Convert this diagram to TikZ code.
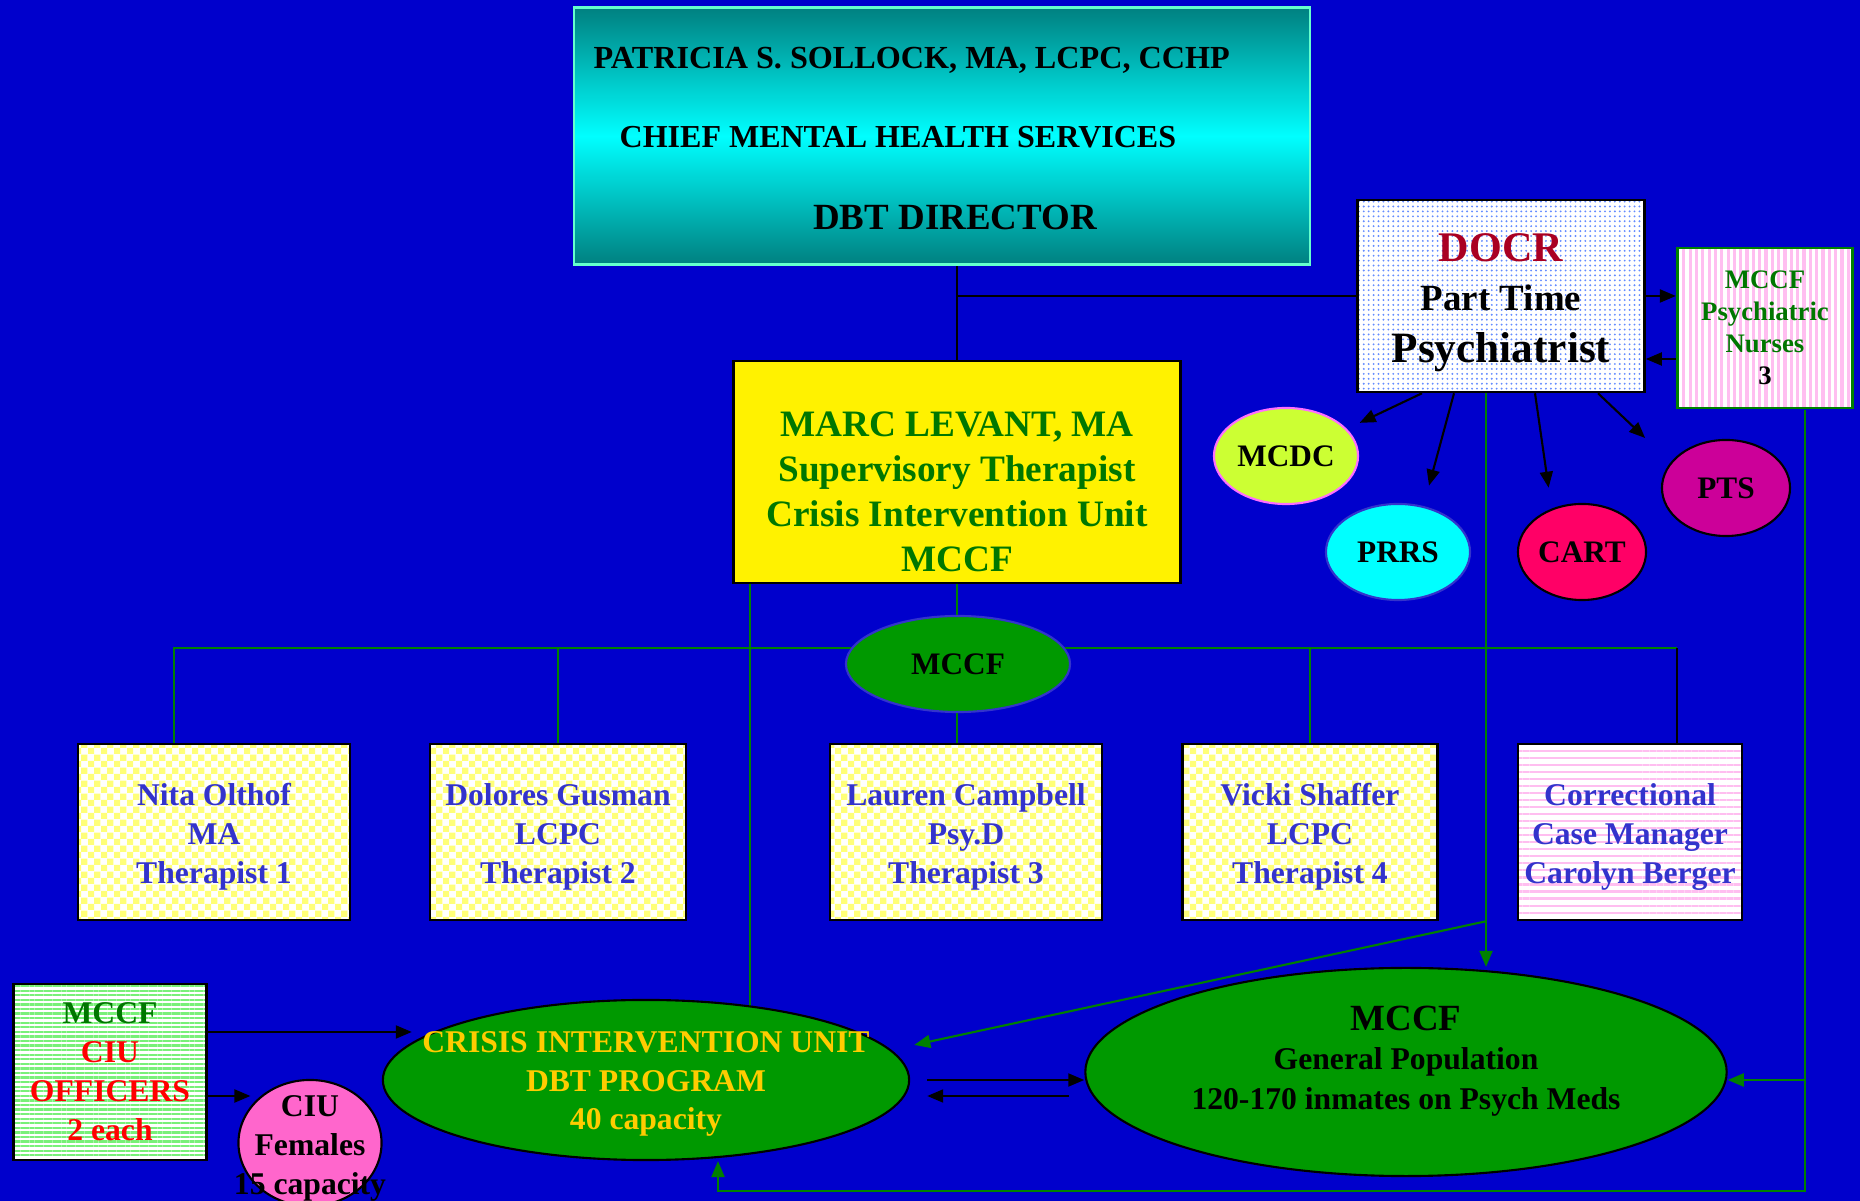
\documentclass[tikz,border=0pt]{standalone}
\usepackage{fontspec}
\setmainfont{Liberation Serif}
\usetikzlibrary{shapes.geometric, arrows.meta, patterns, patterns.meta, calc, backgrounds}

\definecolor{pagebg}{RGB}{0,0,204}
\definecolor{linegreen}{RGB}{0,128,0}
\definecolor{ovalgreen}{RGB}{0,153,0}
\definecolor{textgreen}{RGB}{0,119,0}
\definecolor{nameblue}{RGB}{51,51,204}
\definecolor{docrred}{RGB}{170,0,34}
\definecolor{gold}{RGB}{255,204,0}
\definecolor{limeoval}{RGB}{204,255,51}
\definecolor{prrscyan}{RGB}{0,255,255}
\definecolor{cartred}{RGB}{255,0,102}
\definecolor{ptspurple}{RGB}{204,0,153}
\definecolor{femalepink}{RGB}{255,102,204}
\definecolor{aquaedge}{RGB}{102,255,204}
\definecolor{darkteal}{RGB}{0,128,128}
\definecolor{brightcyan}{RGB}{0,255,255}
\definecolor{checkyellow}{RGB}{255,255,120}
\definecolor{stripepink}{RGB}{255,190,240}
\definecolor{stripegreen}{RGB}{120,240,120}
\definecolor{dotblue}{RGB}{100,140,255}

\pgfdeclarepatternformonly{finechecks}{\pgfpointorigin}{\pgfqpoint{3.6pt}{3.6pt}}{\pgfqpoint{3.6pt}{3.6pt}}
{
  \pgfpathrectangle{\pgfpointorigin}{\pgfqpoint{1.8pt}{1.8pt}}
  \pgfpathrectangle{\pgfqpoint{1.8pt}{1.8pt}}{\pgfqpoint{1.8pt}{1.8pt}}
  \pgfusepath{fill}
}

\begin{document}
\begin{tikzpicture}[x=0.01cm, y=-0.01cm,
    box/.style={draw, line width=0.7pt, inner sep=0pt},
    oval/.style={ellipse, draw, line width=0.6pt, inner sep=0pt, font=\bfseries\fontsize{8.9}{11}\selectfont},
    wire/.style={line width=0.6pt},
    gwire/.style={draw=linegreen, line width=0.6pt},
    arrowed/.style={-{Triangle[length=0.16cm, width=0.13cm]}},
    staff/.style={box, minimum height=1.76cm, align=center, text=nameblue, font=\bfseries\fontsize{9}{11}\selectfont},
    checked/.style={staff, preaction={fill=white}, pattern=finechecks, pattern color=checkyellow}]

    \useasboundingbox (0, 0) rectangle (1860, 1201);

    \node [box, draw=aquaedge, top color=darkteal, bottom color=darkteal, middle color=brightcyan,
        minimum width=7.36cm, minimum height=2.57cm] (chief) at (942, 136) {};
    \node [anchor=west, inner sep=0pt, font=\bfseries\fontsize{9.15}{11}\selectfont] (chiefname) at (593, 60) {PATRICIA S. SOLLOCK, MA, LCPC, CCHP};
    \node [anchor=west, inner sep=0pt, font=\bfseries\fontsize{9.1}{11}\selectfont] (chiefjob) at (619, 137) {CHIEF MENTAL HEALTH SERVICES};
    \node [inner sep=0pt, font=\bfseries\fontsize{10.5}{12}\selectfont] (chiefrole) at (955, 217) {DBT DIRECTOR};

    \node [box, preaction={fill=white}, pattern={Dots[distance=1.4pt, radius=0.3pt]}, pattern color=dotblue,
        minimum width=2.87cm, minimum height=1.92cm] (docr) at (1501, 296) {};
    \node [align=center, inner sep=0pt, font=\bfseries\fontsize{10.5}{13.8}\selectfont] (docrtext) at (1501, 303)
        {{\color{docrred}\fontsize{12}{13.8}\selectfont DOCR}\\Part Time\\[1.2pt]{\fontsize{12.3}{13.8}\selectfont Psychiatrist}};

    \node [box, draw=linegreen, preaction={fill=white}, pattern={Lines[angle=90, distance=1.8pt, line width=0.9pt]}, pattern color=stripepink,
        minimum width=1.75cm, minimum height=1.6cm, align=center, text=textgreen, font=\bfseries\fontsize{7.6}{9.1}\selectfont] (nurses) at (1765, 328)
        {MCCF\\Psychiatric\\Nurses\\\textcolor{black}{3}};

    \node [oval, fill=limeoval, draw={rgb,255:red,255;green,110;blue,255}, minimum width=1.44cm, minimum height=0.96cm] (mcdc) at (1286, 456) {MCDC};
    \node [oval, fill=prrscyan, draw=nameblue, minimum width=1.44cm, minimum height=0.96cm] (prrs) at (1398, 552) {PRRS};
    \node [oval, fill=cartred, minimum width=1.28cm, minimum height=0.96cm] (cart) at (1582, 552) {CART};
    \node [oval, fill=ptspurple, minimum width=1.28cm, minimum height=0.96cm] (pts) at (1726, 488) {PTS};

    \node [box, fill=yellow, minimum width=4.47cm, minimum height=2.22cm] (marc) at (957, 472) {};
    \node [align=center, inner sep=0pt, text=textgreen, font=\bfseries\fontsize{10.6}{12.8}\selectfont] (marctext) at (957, 492)
        {MARC LEVANT, MA\\Supervisory Therapist\\Crisis Intervention Unit\\MCCF};

    \node [oval, fill=ovalgreen, draw=nameblue, minimum width=2.24cm, minimum height=0.96cm] (hub) at (958, 664) {MCCF};

    \foreach \nm/\x/\w/\who in {nita/214/2.72/{Nita Olthof\\MA\\Therapist 1},
        dolores/558/2.56/{Dolores Gusman\\LCPC\\Therapist 2},
        lauren/966/2.72/{Lauren Campbell\\Psy.D\\Therapist 3},
        vicki/1310/2.55/{Vicki Shaffer\\LCPC\\Therapist 4}}
    {
      \node [checked, minimum width=\w cm] (\nm) at (\x, 832) {\rule{0pt}{9pt}\who};
    }
    \node [staff, preaction={fill=white}, pattern={Lines[angle=0, distance=2pt, line width=0.6pt]}, pattern color=stripepink,
        minimum width=2.24cm] (corr) at (1630, 832) {\rule{0pt}{9pt}Correctional\\Case Manager\\Carolyn Berger};

    \node [box, preaction={fill=white}, pattern={Lines[angle=0, distance=1.3pt, line width=0.65pt]}, pattern color=stripegreen,
        minimum width=1.93cm, minimum height=1.76cm, align=center, text=red, font=\bfseries\fontsize{9}{11.1}\selectfont] (officers) at (110, 1072)
        {\textcolor{textgreen}{MCCF}\\CIU\\OFFICERS\\2 each};

    \node [oval, fill=femalepink, minimum width=1.43cm, minimum height=1.26cm] (females) at (310, 1143) {};
    \node [align=center, inner sep=0pt, font=\bfseries\fontsize{9}{11.1}\selectfont] (femtext) at (310, 1148) {CIU\\Females\\15 capacity};

    \node [oval, fill=ovalgreen, minimum width=5.26cm, minimum height=1.6cm] (ciu) at (646, 1080) {};
    \node [align=center, inner sep=0pt, text=gold, font=\bfseries\fontsize{9}{11}\selectfont] (ciutext) at (646, 1084)
        {CRISIS INTERVENTION UNIT\\DBT PROGRAM\\40 capacity};

    \node [oval, fill=ovalgreen, minimum width=6.41cm, minimum height=2.08cm] (genpop) at (1406, 1072) {};
    \node [align=center, inner sep=0pt, font=\bfseries\fontsize{9}{11.3}\selectfont] (gptext) at (1406, 1061)
        {{\fontsize{10.5}{11.3}\selectfont MCCF}\\General Population\\120-170 inmates on Psych Meds};

    \begin{scope}[on background layer]
      \fill [pagebg] (0, 0) rectangle (1860, 1201);

      \draw [wire] (marc.north) to (marc.north |- chief.south);
      \draw [wire] (marc.north |- docr.west) to (docr.west);
      \draw [wire, arrowed] (docr.east) to (docr.east -| nurses.west);
      \draw [wire, arrowed] ($(nurses.west) + (0, 31)$) to ($(docr.east) + (0, 63)$);

      \draw [wire, arrowed, shorten >=4pt] ($(docr.south) + (-79, 0)$) to (mcdc.24);
      \draw [wire, arrowed, shorten >=6pt] ($(docr.south) + (-47, 0)$) to (prrs.61);
      \draw [wire, arrowed, shorten >=6pt] ($(docr.south) + (34, 0)$) to (cart.125);
      \draw [wire, arrowed, shorten >=10pt] ($(docr.south) + (97, 0)$) to (pts.155);

      \coordinate (bus) at (958, 648);
      \coordinate (nitatap) at ($(nita.north) + (-40, 0)$);
      \coordinate (corrtap) at ($(corr.north) + (47, 0)$);
      \draw [gwire] (nitatap) |- (bus) to (bus -| corrtap);
      \draw [wire] (bus -| corrtap) to (corrtap);
      \foreach \nm in {dolores, vicki}
        \draw [gwire] (\nm.north) to (\nm.north |- bus);
      \draw [gwire] (marc.south) to (marc.south |- lauren.north);

      \coordinate (ciutap) at ($(marc.south) + (-207, 0)$);
      \draw [gwire] (ciutap) to (ciutap |- ciu.center);

      \coordinate (gpdrop) at ($(docr.south) + (-15, 0)$);
      \draw [gwire, arrowed] (gpdrop) to (gpdrop |- genpop.north);
      \draw [gwire, arrowed, shorten >=6.7pt] (gpdrop |- vicki.south) to (ciu.7);

      \coordinate (nsdrop) at ($(nurses.south) + (40, 0)$);
      \coordinate (floor) at (0, 1191);
      \coordinate (ciuret) at ($(ciu.south) + (72, 0)$);
      \coordinate (gpin) at ($(genpop.east) + (0, 8)$);
      \draw [gwire, arrowed] (nsdrop) to (nsdrop |- floor) -| (ciuret);
      \draw [gwire, arrowed] (nsdrop |- gpin) to (gpin);

      \draw [wire, arrowed, shorten <=0.17cm] (ciu.east) to (ciu.east -| genpop.west);
      \draw [wire, arrowed, shorten <=0.15cm, shorten >=0.17cm] ($(ciu.east -| genpop.west) + (0, 16)$) to ($(ciu.east) + (0, 16)$);

      \draw [wire, arrowed] ($(officers.east) + (0, -40)$) to ($(ciu.west) + (30, -48)$);
      \draw [wire, arrowed] ($(officers.east) + (0, 24)$) to ($(females.west) + (13, -47)$);
    \end{scope}

\end{tikzpicture}
\end{document}
